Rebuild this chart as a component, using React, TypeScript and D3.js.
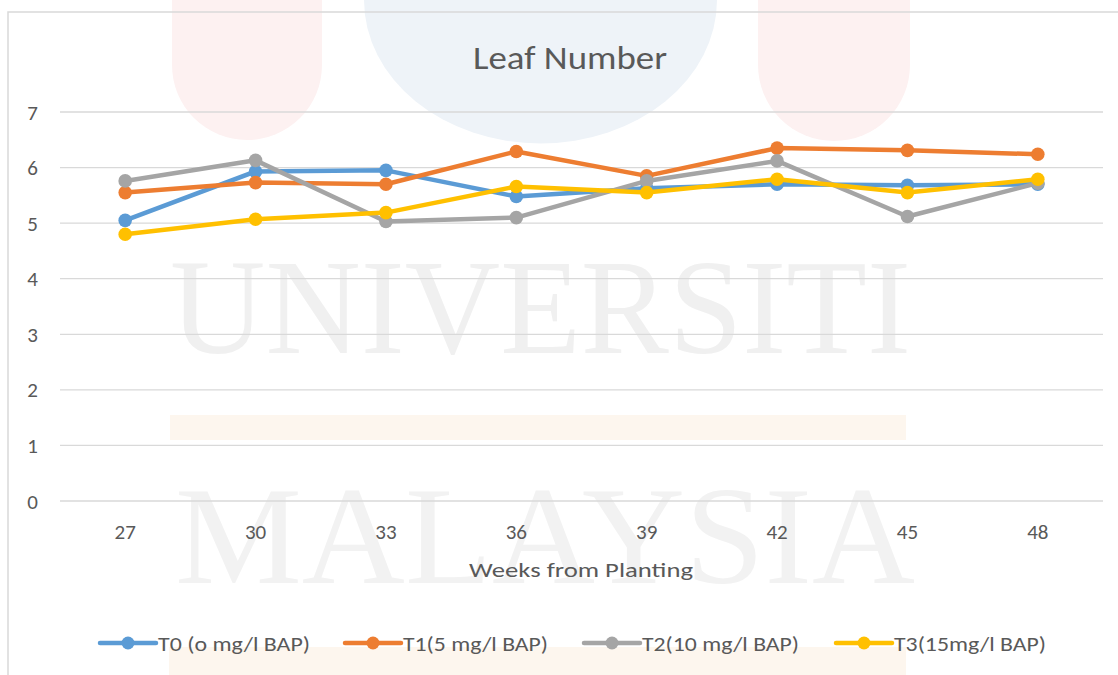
import * as d3 from 'd3';

const weeks = ['27', '30', '33', '36', '39', '42', '45', '48'];
const seriesNames = ['T0 (o mg/l BAP)', 'T1(5 mg/l BAP)', 'T2(10 mg/l BAP)', 'T3(15mg/l BAP)'];
const t0 = [5.05, 5.93, 5.95, 5.48, 5.63, 5.7, 5.68, 5.7];
const t1 = [5.55, 5.73, 5.7, 6.29, 5.85, 6.35, 6.31, 6.24];
const t2 = [5.76, 6.13, 5.03, 5.1, 5.76, 6.12, 5.12, 5.72];
const t3 = [4.8, 5.07, 5.19, 5.66, 5.55, 5.79, 5.55, 5.79];
const yTicks = [0, 1, 2, 3, 4, 5, 6, 7];

const colors = ['#5B9BD5', '#ED7D31', '#A5A5A5', '#FFC000'];
const font = 'Carlito, Calibri, Lato, sans-serif';
const textColor = '#595959';

const W = 1118;
const H = 675;
const plot = { left: 60, right: 1103, top: 112, bottom: 501 };

const legendX = [100, 345, 584, 836];
const legendTextW = [152, 145, 157, 152];

export default function App() {
  const x = d3.scalePoint().domain(weeks).range([plot.left, plot.right]).padding(0.5);
  const y = d3.scaleLinear().domain([0, 7]).range([plot.bottom, plot.top]);

  const line = d3.line<number>()
    .x((_, i) => x(weeks[i]) as number)
    .y((d) => y(d));

  const allSeries = [t0, t1, t2, t3];
  const legendY = 643;

  return (
    <svg width={W} height={H} style={{ position: 'absolute', left: 0, top: 0, background: '#fff' }}>
      {/* faint watermark behind the chart */}
      <g>
        <path d="M172,0 V65 A75,75 0 0 0 322,65 V0 Z" fill="#fdf1f1" />
        <path d="M758,0 V65 A76,76 0 0 0 910,65 V0 Z" fill="#fdf1f1" />
        <path d="M364,0 A176,143 0 0 0 717,0 Z" fill="#eef3f8" />
        <rect x={170} y={415} width={736} height={25} fill="#fdf6ee" />
        <rect x={169} y={647} width={737} height={28} fill="#fdf6ee" />
        <text x={170} y={353} textLength={741} lengthAdjust="spacingAndGlyphs"
          fontFamily="'Liberation Serif', serif" fontSize={136} fill="#f0f0f0">UNIVERSITI</text>
        <text x={175} y={583} textLength={740} lengthAdjust="spacingAndGlyphs"
          fontFamily="'Liberation Serif', serif" fontSize={140} fill="#f2f2f2">MALAYSIA</text>
      </g>

      {/* chart border */}
      <path d={`M8,${H} V12 H${W}`} fill="none" stroke="#d9d9d9" strokeWidth={1.5} />

      <text x={473} y={69} textLength={194} lengthAdjust="spacingAndGlyphs"
        fontFamily={font} fontSize={33} fill={textColor}>
        Leaf Number
      </text>

      {yTicks.map((t) => (
        <g key={t}>
          <line x1={plot.left} x2={plot.right} y1={y(t)} y2={y(t)} stroke="#d9d9d9" strokeWidth={1.3} />
          <text x={38} y={y(t)} dy="0.36em" textAnchor="end" fontFamily={font} fontSize={21} fill={textColor}>
            {t}
          </text>
        </g>
      ))}

      {weeks.map((w) => (
        <text key={w} x={x(w)} y={539} textAnchor="middle" fontFamily={font} fontSize={21} fill={textColor}>
          {w}
        </text>
      ))}

      <text x={469} y={577} textLength={224} lengthAdjust="spacingAndGlyphs"
        fontFamily={font} fontSize={21} fill={textColor}>
        Weeks from Planting
      </text>

      {allSeries.map((s, si) => (
        <g key={si}>
          <path d={line(s) || ''} fill="none" stroke={colors[si]} strokeWidth={4.5} strokeLinejoin="round" />
          {s.map((v, i) => (
            <circle key={i} cx={x(weeks[i])} cy={y(v)} r={6.8} fill={colors[si]} />
          ))}
        </g>
      ))}

      {seriesNames.map((name, si) => (
        <g key={name} transform={`translate(${legendX[si]},${legendY})`}>
          <line x1={0} x2={56} y1={0} y2={0} stroke={colors[si]} strokeWidth={4.5} strokeLinecap="round" />
          <circle cx={28} cy={0} r={6.5} fill={colors[si]} />
          <text x={58} y={8} textLength={legendTextW[si]} lengthAdjust="spacingAndGlyphs"
            fontFamily={font} fontSize={21} fill={textColor}>
            {name}
          </text>
        </g>
      ))}
    </svg>
  );
}
